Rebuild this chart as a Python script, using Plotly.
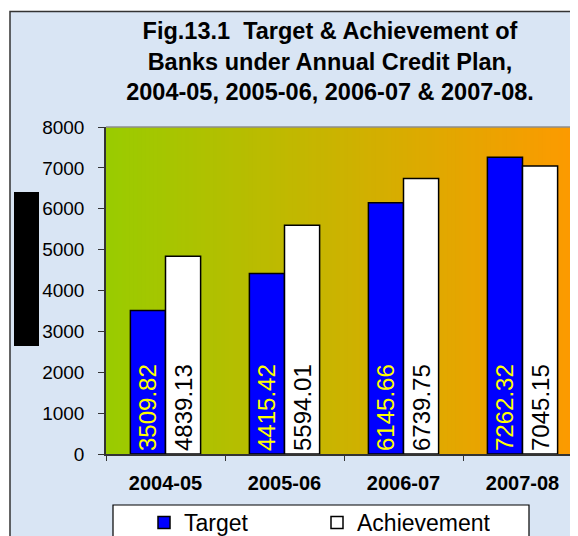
import plotly.graph_objects as go

# ---- data ----
years = ["2004-05", "2005-06", "2006-07", "2007-08"]
target = [3509.82, 4415.42, 6145.66, 7262.32]
achievement = [4839.13, 5594.01, 6739.75, 7045.15]
y_ticks = [0, 1000, 2000, 3000, 4000, 5000, 6000, 7000, 8000]
title_lines = [
    "Fig.13.1  Target & Achievement of",
    "Banks under Annual Credit Plan,",
    "2004-05, 2005-06, 2006-07 & 2007-08.",
]

# ---- layout geometry (figure pixels) ----
W, H = 578, 536
OFF = 8                                  # page offset of the figure (body margin)
PL, PR, PT, PB = 98, 574, 119, 446       # plot area edges in figure pixels
FONT = "Arial, Liberation Sans, sans-serif"


def px(xpage):
    return (xpage - OFF - PL) / (PR - PL)


def py(ypage):
    return (PB - (ypage - OFF)) / (PB - PT)


fig = go.Figure()
fig.add_trace(go.Bar(
    name="Target", x=years, y=target,
    marker=dict(color="#0000ff", line=dict(color="black", width=1.5)),
    texttemplate="%{y:.2f}", textposition="inside", insidetextanchor="start",
    textangle=-90, constraintext="none",
    textfont=dict(family=FONT, size=24, color="#ffff00"),
    insidetextfont=dict(family=FONT, size=24, color="#ffff00"),
    hoverinfo="skip",
))
fig.add_trace(go.Bar(
    name="Achievement", x=years, y=achievement,
    marker=dict(color="#ffffff", line=dict(color="black", width=1.5)),
    texttemplate="%{y:.2f}", textposition="inside", insidetextanchor="start",
    textangle=-90, constraintext="none",
    textfont=dict(family=FONT, size=24, color="black"),
    insidetextfont=dict(family=FONT, size=24, color="black"),
    hoverinfo="skip",
))

shapes = []
# outer frame with light blue background
shapes.append(dict(type="rect", xref="paper", yref="paper", layer="below",
                   x0=px(10), x1=px(640), y0=py(600), y1=py(11.5),
                   fillcolor="#d9e5f4", line=dict(color="#333333", width=1.5)))
# gradient plot background (green -> orange)
N = 120
c0 = (153, 204, 0)
c1 = (255, 153, 0)
for i in range(N):
    t = (i + 0.5) / N
    col = tuple(round(c0[k] + (c1[k] - c0[k]) * t) for k in range(3))
    a = i / N
    b = (i + 1.6) / N
    shapes.append(dict(type="rect", xref="paper", yref="paper", layer="below",
                       x0=a, x1=min(b, 1.0), y0=0, y1=1,
                       fillcolor="rgb(%d,%d,%d)" % col, line=dict(width=0)))
# top border of plot area
shapes.append(dict(type="line", xref="paper", yref="paper", layer="below",
                   x0=0, x1=1, y0=1, y1=1, line=dict(color="#8c8c8c", width=1.5)))
# black box over y-axis title
shapes.append(dict(type="rect", xref="paper", yref="paper", layer="above",
                   x0=px(14), x1=px(39), y0=py(346), y1=py(192),
                   fillcolor="black", line=dict(width=0)))
# legend box
shapes.append(dict(type="rect", xref="paper", yref="paper", layer="below",
                   x0=px(113), x1=px(529), y0=py(600), y1=py(505),
                   fillcolor="white", line=dict(color="black", width=1.2)))

fig.update_layout(
    width=W, height=H,
    margin=dict(l=PL, r=W - PR, t=PT, b=H - PB, pad=0),
    paper_bgcolor="white", plot_bgcolor="rgba(0,0,0,0)",
    font=dict(family=FONT, color="black"),
    title=dict(text="<br>".join(title_lines), x=322 / W, xanchor="center",
               xref="container", yref="container", y=1 - 31 / H, yanchor="top",
               font=dict(family=FONT, size=23.5, color="black", weight="bold")),
    barmode="group", bargap=0.41, bargroupgap=0,
    showlegend=True,
    legend=dict(orientation="h", xref="container", yref="container",
                x=136 / W, xanchor="left", y=1 - 493 / H, yanchor="top",
                bgcolor="rgba(0,0,0,0)", borderwidth=0,
                font=dict(family=FONT, size=23, color="black"),
                entrywidth=128, entrywidthmode="pixels", itemwidth=30,
                traceorder="normal"),
    shapes=shapes,
    xaxis=dict(type="category", categoryorder="array", categoryarray=years,
               range=[-0.5, 3.5],
               tickson="boundaries", ticks="outside", ticklen=5, tickwidth=1.2,
               tickcolor="#333333", showline=True, linecolor="#333333", linewidth=1.5,
               showgrid=False, zeroline=False, ticklabelstandoff=10,
               tickfont=dict(family=FONT, size=20, color="black", weight="bold")),
    yaxis=dict(range=[0, 8000], tickvals=y_ticks, ticks="outside", ticklen=6,
               tickwidth=1.2, tickcolor="#333333", showline=True,
               linecolor="#333333", linewidth=1.5, showgrid=False, zeroline=False,
               ticklabelstandoff=10,
               tickfont=dict(family=FONT, size=19, color="black")),
)

fig.write_html("out.html")
